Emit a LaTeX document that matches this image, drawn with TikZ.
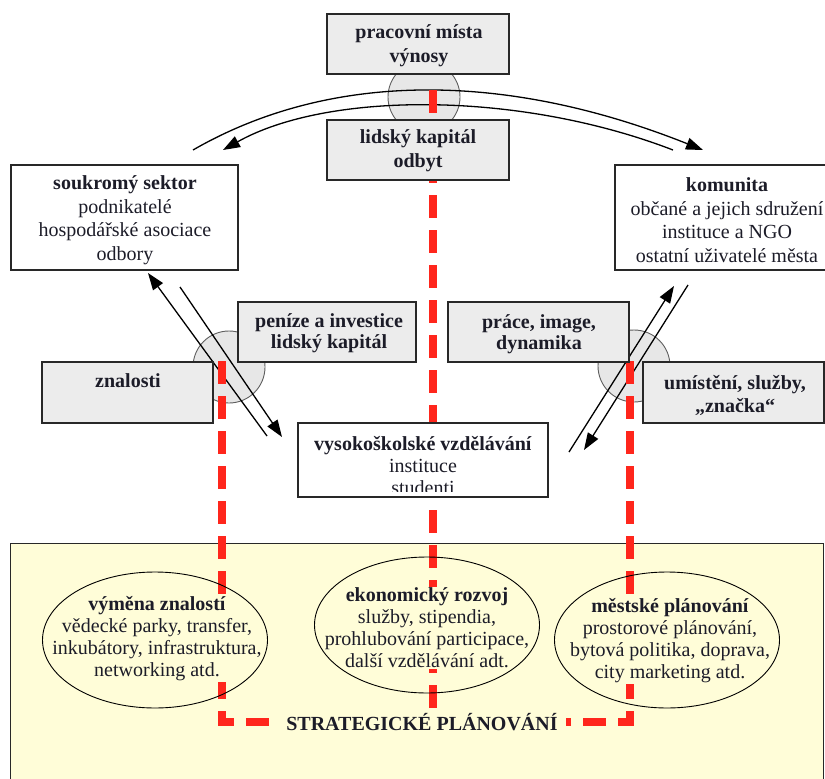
\documentclass[tikz,border=0pt]{standalone}
\usepackage{fontspec}
\setmainfont{Liberation Serif}
\usetikzlibrary{shapes.geometric,arrows.meta}
\definecolor{boxgray}{RGB}{236,236,236}
\definecolor{ringgray}{RGB}{231,231,231}
\definecolor{ringline}{RGB}{95,95,95}
\definecolor{boxline}{RGB}{40,40,40}
\definecolor{redl}{RGB}{255,38,28}
\definecolor{cream}{RGB}{255,253,216}
\definecolor{txt}{RGB}{28,28,40}
\begin{document}
\begin{tikzpicture}[x=1pt,y=-1pt,
  font=\fontsize{20}{23.5}\selectfont,
  graybox/.style={draw=boxline, fill=boxgray, line width=1.3pt, inner sep=0pt},
  whitebox/.style={draw=boxline, fill=white, line width=1.3pt, inner sep=0pt},
  lbl/.style={align=center, inner sep=0pt, text=txt},
  ovaltxt/.style={align=center, inner sep=1pt, text=txt, fill=cream, font=\fontsize{20}{22}\selectfont},
  ring/.style={circle, draw=ringline, fill=ringgray, line width=0.9pt, minimum size=72pt, inner sep=0pt},
  oval/.style={ellipse, line width=0.9pt, minimum width=225pt, minimum height=136pt, inner sep=0pt},
  flow/.style={draw=black, line width=1.3pt, -{Triangle[length=17pt,width=12pt]}},
  redline/.style={draw=redl, line width=7.5pt, dash pattern=on 23pt off 12pt}
]
\useasboundingbox (0,0) rectangle (825,779);
\fill[white] (0,0) rectangle (825,779);

% bottom panel
\node[draw=boxline, fill=cream, line width=1.3pt, minimum width=813pt, minimum height=250pt, inner sep=0pt, anchor=north west] (panel) at (10,543) {};

% ellipses (fill)
\node[oval, fill=cream] (e1) at (155,640) {};
\node[oval, fill=cream] (e2) at (427,625) {};
\node[oval, fill=cream] (e3) at (667,640) {};

% rings
\node[ring] (r0) at (424,97) {};
\node[ring] (r1) at (229,367) {};
\node[ring] (r2) at (634,366) {};

% top arcs
\coordinate (ua) at (193,150);
\coordinate (ub) at (703,150);
\coordinate (la) at (673,150);
\coordinate (lb) at (223,150);
\draw[flow] (ua) .. controls (330,71) and (505,71) .. (ub);
\draw[flow] (la) .. controls (520,91) and (328,91) .. (lb);

% left diagonals
\coordinate (a1) at (267,436);
\coordinate (a2) at (148,273);
\coordinate (b1) at (180,287);
\coordinate (b2) at (282,437);
\draw[flow] (a1) -- (a2);
\draw[flow] (b1) -- (b2);

% right diagonals
\coordinate (c1) at (569,452);
\coordinate (c2) at (674,286);
\coordinate (d1) at (688,285);
\coordinate (d2) at (584,450);
\draw[flow] (c1) -- (c2);
\draw[flow] (d1) -- (d2);

% red dashed lines
\coordinate (m0) at (433,90);
\coordinate (m1) at (433,722);
\coordinate (l0) at (222,361);
\coordinate (l1) at (222,722);
\coordinate (q0) at (630,361);
\coordinate (q1) at (630,722);
\draw[redline] (m0) -- (m1);
\draw[redline] (l0) -- (l1) -- (m1);
\draw[redline] (q0) -- (q1) -- (m1);

% ellipse texts and outlines
\node[ovaltxt] (t1) at (157,639) {\textbf{výměna znalostí}\\vědecké parky, transfer,\\inkubátory, infrastruktura,\\networking atd.};
\node[ovaltxt] (t2) at (427,628) {\textbf{ekonomický rozvoj}\\služby, stipendia,\\prohlubování participace,\\další vzdělávání adt.};
\node[ovaltxt] (t3) at (670,641) {\textbf{městské plánování}\\prostorové plánování,\\bytová politika, doprava,\\city marketing atd.};
\draw[line width=0.9pt] (e1.center) ellipse [x radius=112.5pt, y radius=68pt];
\draw[line width=0.9pt] (e2.center) ellipse [x radius=112.5pt, y radius=68pt];
\draw[line width=0.9pt] (e3.center) ellipse [x radius=112.5pt, y radius=68pt];

\node[lbl, fill=cream, inner xsep=8pt, inner ysep=4pt, font=\fontsize{20}{23.5}\selectfont\bfseries] (strat) at (422,722) {STRATEGICKÉ PLÁNOVÁNÍ};

% boxes
\node[graybox, minimum width=182pt, minimum height=60pt] (top) at (418,44) {};
\node[lbl, font=\fontsize{20}{24}\selectfont\bfseries] at (419,46) {pracovní místa\\výnosy};
\node[graybox, minimum width=182pt, minimum height=60pt] (cap) at (418,150) {};
\node[lbl, font=\fontsize{20}{24}\selectfont\bfseries] at (418,151) {lidský kapitál\\odbyt};

\node[whitebox, minimum width=227pt, minimum height=105pt] (priv) at (124.5,217.5) {};
\node[lbl] at (125,220) {\textbf{soukromý sektor}\\podnikatelé\\hospodářské asociace\\odbory};
\node[whitebox, minimum width=226pt, minimum height=105pt] (kom) at (728,217.5) {};
\node[lbl] at (727,220) {\textbf{komunita}\\občané a jejich sdružení\\instituce a NGO\\ostatní uživatelé města};

\node[graybox, minimum width=171pt, minimum height=61pt] (zn) at (127.5,392.5) {};
\node[lbl, font=\fontsize{20}{23.5}\selectfont\bfseries] at (128,381) {znalosti};
\node[graybox, minimum width=178pt, minimum height=60pt] (pen) at (327,332) {};
\node[lbl, font=\fontsize{20}{21}\selectfont\bfseries] at (329,333) {peníze a investice\\lidský kapitál};
\node[graybox, minimum width=181pt, minimum height=60pt] (pr) at (538.5,332) {};
\node[lbl, font=\fontsize{20}{21}\selectfont\bfseries] at (539,334) {práce, image,\\dynamika};
\node[graybox, minimum width=181pt, minimum height=61pt] (um) at (733.5,392.5) {};
\node[lbl, font=\fontsize{20}{23}\selectfont\bfseries] at (735,395) {umístění, služby,\\„značka“};

\node[whitebox, minimum width=250pt, minimum height=74pt] (vs) at (423,460) {};
\begin{scope}
\clip (300,425) rectangle (546,491);
\node[lbl, font=\fontsize{20}{22}\selectfont] at (423,466) {\textbf{vysokoškolské vzdělávání}\\instituce\\studenti};
\end{scope}
\end{tikzpicture}
\end{document}
